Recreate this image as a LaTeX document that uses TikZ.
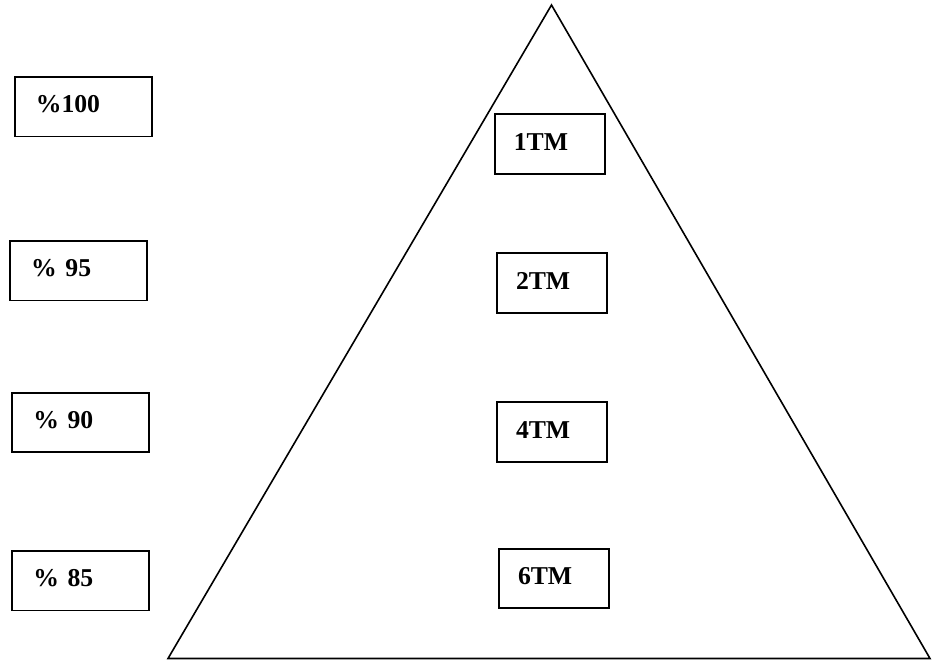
\documentclass[tikz,border=0pt]{standalone}
\usepackage{fontspec}
\setmainfont{Liberation Serif}
\usepackage{tikz}
\usetikzlibrary{positioning}
\tikzstyle{lvl}=[draw, line width=1.8pt, minimum height=59.5pt, text height=17.5pt, text depth=5.5pt, align=left, font=\fontsize{25.7}{30}\selectfont\bfseries]
\tikzstyle{pct}=[lvl, inner xsep=21pt, text width=95pt]
\tikzstyle{tmbox}=[lvl, inner xsep=19pt, text width=72pt]
\tikzstyle{edge}=[line width=1.6pt, line join=miter]

\begin{document}
\begin{tikzpicture}[x=1pt, y=-1pt]
\useasboundingbox (0,0) rectangle (932,661);
%
\coordinate (top) at (551.5,5);
\coordinate (bl) at (168,658.5);
\coordinate (br) at (930,658.5);
\draw[edge] (top) -- (bl) -- (br) -- cycle;
%
\node[pct] (p100) at (83.3,106.8) {\%100};
\node[pct] (p95) at (78.7,270.8) {\% 95};
\node[pct] (p90) at (80.8,422.5) {\% 90};
\node[pct] (p85) at (80.8,580.8) {\% 85};
%
\node[tmbox] (tm1) at (549.8,144) {1TM};
\node[tmbox] (tm2) at (552,283) {2TM};
\node[tmbox] (tm4) at (552,432) {4TM};
\node[tmbox] (tm6) at (554,578.5) {6TM};
%
\end{tikzpicture}
\end{document}
